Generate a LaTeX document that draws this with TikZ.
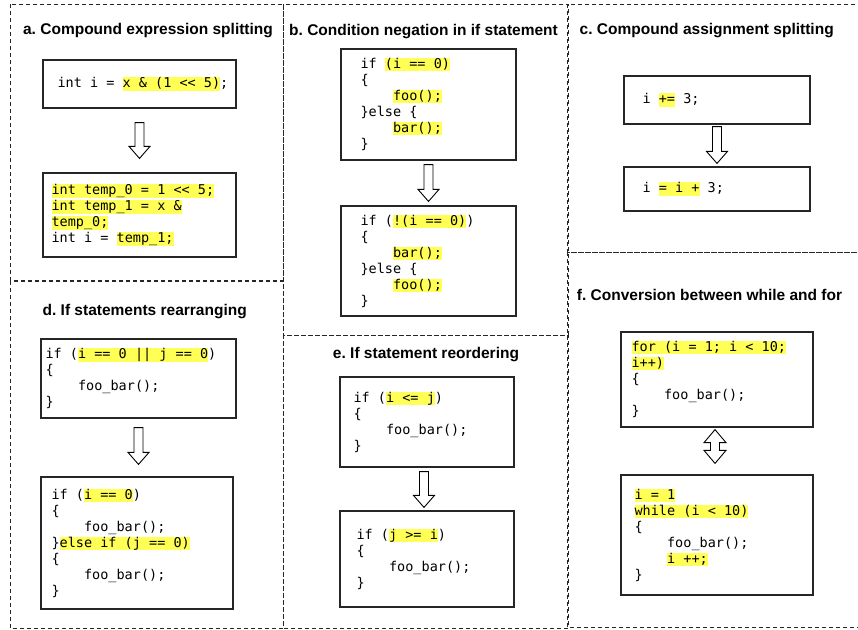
\documentclass[tikz,border=0pt]{standalone}
\usepackage{fontspec}
\setmainfont{Liberation Sans}
\newfontfamily\codefont{DejaVu Sans Mono}
\usetikzlibrary{calc}
\frenchspacing
\definecolor{hly}{RGB}{255,255,85}
\newcommand\hl[1]{{\setlength{\fboxsep}{0pt}\colorbox{hly}{\rule[-2.8pt]{0pt}{13.3pt}#1}}}
\newcommand\ind{\phantom{0000}}
\newcommand\LL{<\kern0pt<}
\newcommand\codespaces{\fontdimen2\font=\fontcharwd\font`0\relax
  \fontdimen3\font=0pt\relax\fontdimen4\font=0pt\relax\fontdimen7\font=0pt\relax\frenchspacing}
\newcommand\downarr[2]{%
  \draw[blk] let \p1=#1, \p2=#2 in
    (\x1-4.5pt,\y1) -- (\x1-4.5pt,\y2+12pt) -- (\x1-10.5pt,\y2+12pt) -- (\x1,\y2)
    -- (\x1+10.5pt,\y2+12pt) -- (\x1+4.5pt,\y2+12pt) -- (\x1+4.5pt,\y1) -- cycle;}
\tikzset{
  panel/.style={draw=black!85, dash pattern=on 4pt off 3pt, line width=0.9pt},
  title/.style={font=\fontsize{15.5}{18}\selectfont\bfseries, inner sep=0pt},
  codebox/.style={draw=black!85, line width=1.2pt, inner sep=0pt},
  code/.style={align=left, anchor=west, inner sep=0pt,
    font=\codefont\fontsize{13.5}{16}\selectfont\codespaces},
  blk/.style={draw=black, line width=0.9pt, fill=white, line join=miter},
}
\begin{document}
\begin{tikzpicture}[x=1pt,y=-1pt]
\useasboundingbox (0,0) rectangle (858,629);
\fill[white] (0,0) rectangle (858,629);

% panels
\draw[panel] (10,4) rectangle (283,280);
\draw[panel] (10,281) rectangle (283,628);
\draw[panel] (283,4) rectangle (568,335);
\draw[panel] (283,335) rectangle (568,628);
\draw[panel] (567,4) rectangle (862,252);
\draw[panel] (567,252) rectangle (862,627);

% titles
\node[title] (ta) at (148,31) {a. Compound expression splitting};
\node[title] (tb) at (423.5,32) {b. Condition negation in if statement};
\node[title] (tc) at (706.7,31) {c. Compound assignment splitting};
\node[title] (td) at (144.7,312) {d. If statements rearranging};
\node[title] (te) at (426,355) {e. If statement reordering};
\node[title] (tf) at (709.5,295) {f. Conversion between while and for};

% a
\node[codebox, minimum width=193pt, minimum height=48pt] (a1) at (139.5,84) {};
\node[code] (a1t) at ($(a1.west)+(15,0)$) {int i = \hl{x \& (1 \LL{} 5)};};
\node[codebox, minimum width=193pt, minimum height=84pt] (a2) at (139.5,215) {};
\node[code] (a2t) at ($(a2.west)+(9,0)$)
  {\hl{int temp\_0 = 1 \LL{} 5;}\\ \hl{int temp\_1 = x \&}\\ \hl{temp\_0;}\\ int i = \hl{temp\_1;}};
\downarr{($(a1.south)+(0,14)$)}{($(a2.north)+(0,-14)$)}

% b
\node[codebox, minimum width=175pt, minimum height=111pt] (b1) at (428.5,104.5) {};
\node[code] (b1t) at ($(b1.west)+(20,0)$)
  {if \hl{(i == 0)}\\ \{\\ \ind\hl{foo();}\\ \}else \{\\ \ind\hl{bar();}\\ \}};
\node[codebox, minimum width=175pt, minimum height=110pt] (b2) at (428.5,261) {};
\node[code] (b2t) at ($(b2.west)+(20,0)$)
  {if (\hl{!(i == 0)})\\ \{\\ \ind\hl{bar();}\\ \}else \{\\ \ind\hl{foo();}\\ \}};
\downarr{($(b1.south)+(0,4)$)}{($(b2.north)+(0,-4)$)}

% c
\node[codebox, minimum width=186pt, minimum height=48pt] (c1) at (717,100) {};
\node[code] (c1t) at ($(c1.west)+(19,0)$) {i \hl{+=} 3;};
\node[codebox, minimum width=186pt, minimum height=44pt] (c2) at (717,189) {};
\node[code] (c2t) at ($(c2.west)+(19,0)$) {i \hl{= i +} 3;};
\downarr{($(c1.south)+(0,2)$)}{($(c2.north)+(0,-3)$)}

% d
\node[codebox, minimum width=195pt, minimum height=79pt] (d1) at (138.5,378.5) {};
\node[code] (d1t) at ($(d1.west)+(5,0)$)
  {if (\hl{i == 0 || j == 0})\\ \{\\ \ind foo\_bar();\\ \}};
\node[codebox, minimum width=192pt, minimum height=132pt] (d2) at (137,543) {};
\node[code] (d2t) at ($(d2.west)+(11,0)$)
  {if (\hl{i == 0})\\ \{\\ \ind foo\_bar();\\ \}\hl{else if (j == 0)}\\ \{\\ \ind foo\_bar();\\ \}};
\downarr{($(d1.south)+(0,9)$)}{($(d2.north)+(0,-12)$)}

% e
\node[codebox, minimum width=174pt, minimum height=90pt] (e1) at (427,422) {};
\node[code] (e1t) at ($(e1.west)+(14,0)$)
  {if (\hl{i <= j})\\ \{\\ \ind foo\_bar();\\ \}};
\node[codebox, minimum width=174pt, minimum height=96pt] (e2) at (427,559) {};
\node[code] (e2t) at ($(e2.west)+(17,0)$)
  {if (\hl{j >= i})\\ \{\\ \ind foo\_bar();\\ \}};
\downarr{($(e1.south)+(-3,4)$)}{($(e2.north)+(-3,-3)$)}

% f
\node[codebox, minimum width=192pt, minimum height=95pt] (f1) at (717,379.5) {};
\node[code] (f1t) at ($(f1.west)+(11,0)$)
  {\hl{for (i = 1; i < 10;}\\ \hl{i++)}\\ \{\\ \ind foo\_bar();\\ \}};
\node[codebox, minimum width=192pt, minimum height=120pt] (f2) at (717,535) {};
\node[code] (f2t) at ($(f2.west)+(14,0)$)
  {\hl{i = 1}\\ \hl{while (i < 10)}\\ \{\\ \ind foo\_bar();\\ \ind\hl{i ++;}\\ \}};
\draw[blk] let \p1=($(f1.south)+(-2,2)$), \p2=($(f2.north)+(-2,-11)$) in
  (\x1,\y1) -- (\x1+11pt,\y1-13pt) -- (\x1+4.5pt,\y1-13pt) -- (\x1+4.5pt,\y2+13pt)
  -- (\x1+11pt,\y2+13pt) -- (\x1,\y2) -- (\x1-11pt,\y2+13pt) -- (\x1-4.5pt,\y2+13pt)
  -- (\x1-4.5pt,\y1-13pt) -- (\x1-11pt,\y1-13pt) -- cycle;
\end{tikzpicture}
\end{document}
